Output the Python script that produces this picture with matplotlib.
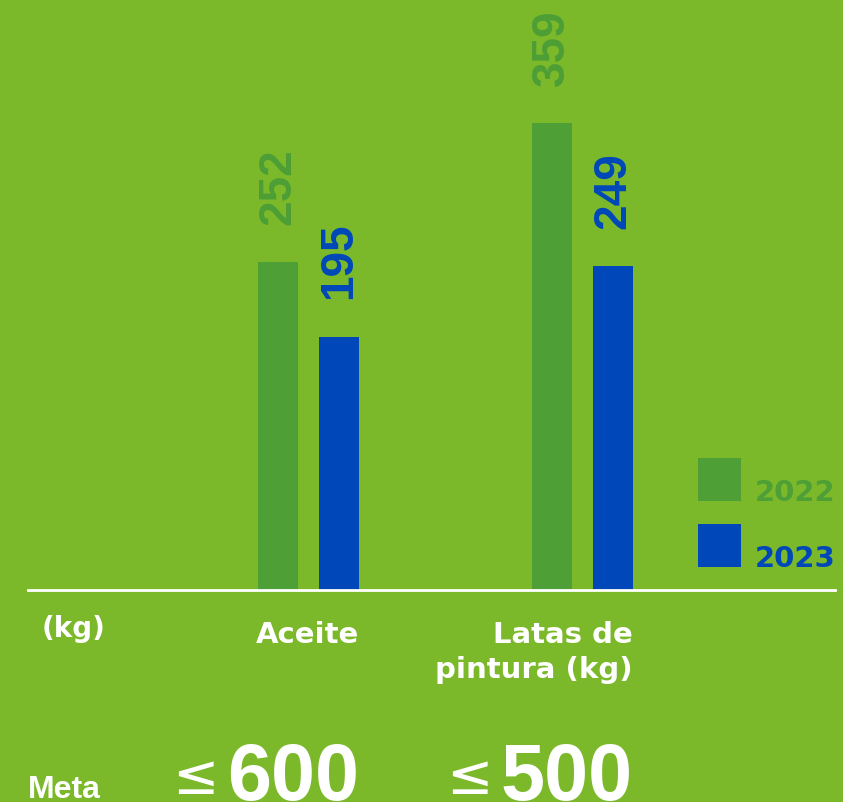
import matplotlib
matplotlib.use("Agg")
import matplotlib.pyplot as plt
import matplotlib.transforms as mtransforms
from matplotlib.patches import Rectangle
import numpy as np

# data
categories = ["Aceite", "Latas de\npintura (kg)"]
years = ["2022", "2023"]
values_2022 = [252, 359]
values_2023 = [195, 249]
metas = [600, 500]

bg = "#7bb92b"
green = "#4d9f36"
blue = "#0048b9"
white = "#ffffff"
colors = [green, blue]

W, H = 843, 802


def fx(px):
    return px / W


def fy(py):
    return 1 - py / H


fig = plt.figure(figsize=(W / 100, H / 100), dpi=100, facecolor=bg)

# axes spans from the left end of the baseline to its right end, baseline at y=590px
ax = fig.add_axes([fx(28), fy(590), (835 - 28) / W, 590 / H])
ax.set_facecolor("none")

px_per_unit = 274.0
bar_w = 40 / px_per_unit
off = 30.5 / px_per_unit
x = np.arange(len(categories))

series = [values_2022, values_2023]
for i, vals in enumerate(series):
    xs = x + (i * 2 - 1) * off
    ax.bar(xs, vals, width=bar_w, color=colors[i], zorder=2)
    for xi, v in zip(xs, vals):
        ax.annotate(str(v), xy=(xi, v), xytext=(0, 27), textcoords="offset points",
                    rotation=90, ha="center", va="bottom", color=colors[i],
                    fontsize=33, fontweight="bold", family=["Liberation Sans", "DejaVu Sans"])

ax.set_xlim(-280.5 / px_per_unit, (807 - 280.5) / px_per_unit)
ax.set_ylim(0, 590 / 1.30)
ax.axhline(0, color=white, lw=2, zorder=3, clip_on=False)
for s in ax.spines.values():
    s.set_visible(False)
ax.set_xticks([])
ax.set_yticks([])

# category labels and targets, right-aligned with the 2023 bar
trans = mtransforms.blended_transform_factory(ax.transData, fig.transFigure)
for i, (cat, meta) in enumerate(zip(categories, metas)):
    xr = x[i] + off + bar_w / 2
    ax.text(xr, fy(621), cat, transform=trans, ha="right", va="top", color=white,
            fontsize=21, fontweight="bold", family="DejaVu Sans", linespacing=1.32)
    ax.text(xr, fy(800), str(meta), transform=trans, ha="right", va="baseline",
            color=white, fontsize=57, fontweight="bold",
            family=["Liberation Sans Narrow", "Liberation Sans", "DejaVu Sans"])
    ax.annotate("\u2264", xy=(xr, fy(794)), xycoords=trans, xytext=(-100.8, 0),
                textcoords="offset points", ha="right", va="baseline", color=white,
                fontsize=40, family="DejaVu Sans")

fig.text(fx(42), fy(615), "(kg)", ha="left", va="top", color=white,
         fontsize=20, fontweight="bold", family="DejaVu Sans")
fig.text(fx(28), fy(798), "Meta", ha="left", va="baseline", color=white,
         fontsize=23, fontweight="bold", family=["Liberation Sans", "DejaVu Sans"])

# legend
for i, (yr, c) in enumerate(zip(years, colors)):
    top = 458 + i * 66
    fig.add_artist(Rectangle((fx(698), fy(top + 43)), 43 / W, 43 / H,
                             transform=fig.transFigure, color=c, lw=0))
    fig.text(fx(755), fy(top + 43), yr, ha="left", va="baseline", color=c,
             fontsize=21, fontweight="bold", family="DejaVu Sans")

fig.savefig("out.png", dpi=100, facecolor=bg)
